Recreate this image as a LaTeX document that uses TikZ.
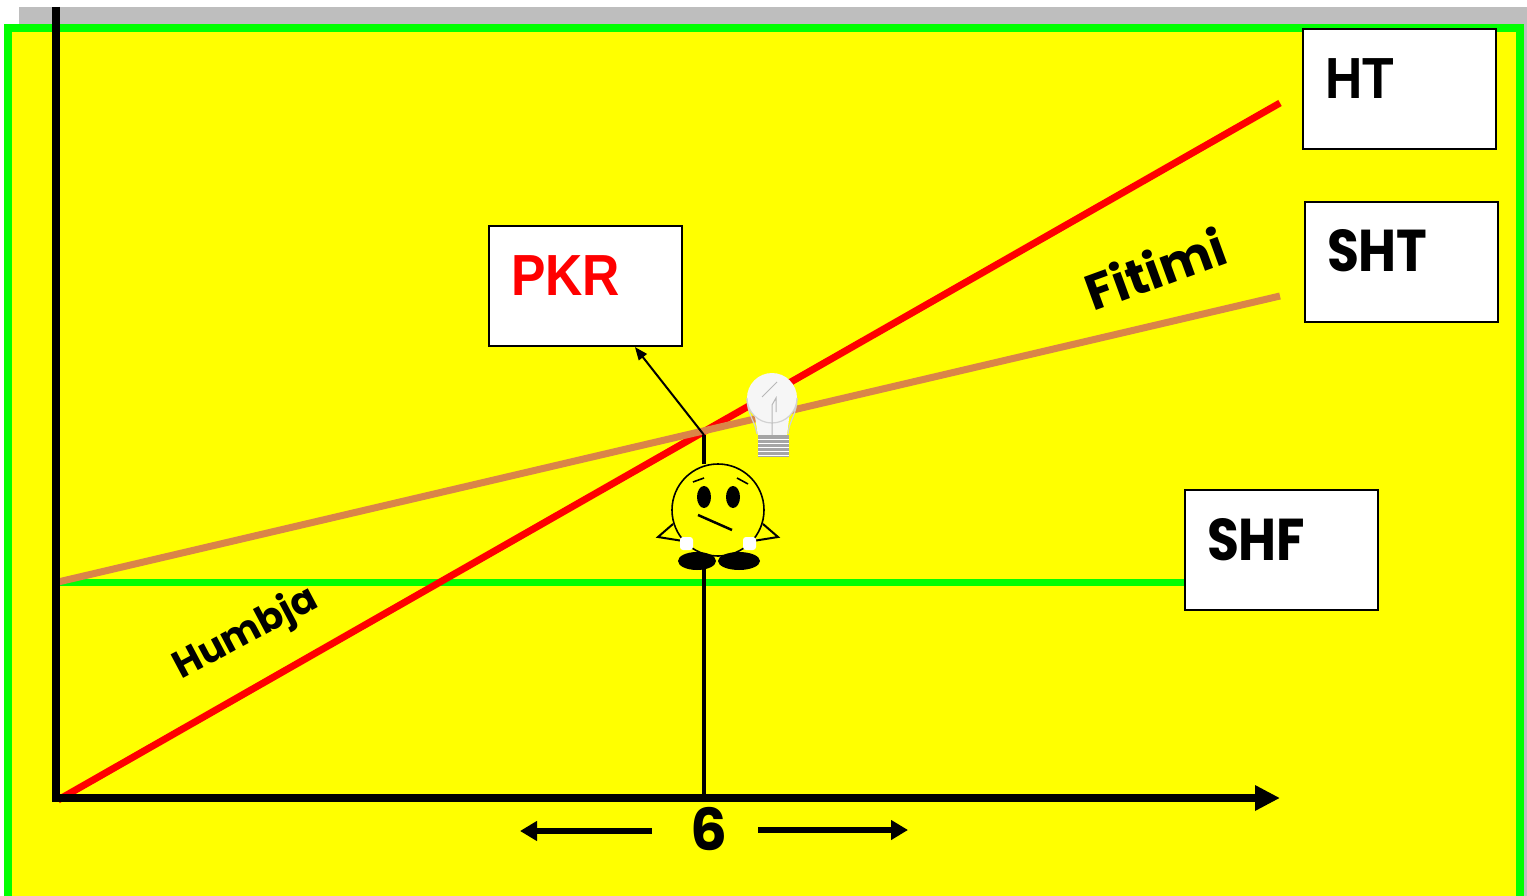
\documentclass[tikz,border=0pt]{standalone}
\usepackage{fontspec}
\usetikzlibrary{arrows.meta}
\newfontfamily\geo{Poppins}
\newfontfamily\geonarrow{Poppins}[FakeStretch=0.88]
\newfontfamily\grotnarrow{Liberation Sans}[FakeStretch=0.89]
\definecolor{bgyellow}{RGB}{255,255,0}
\definecolor{framegreen}{RGB}{0,255,0}
\definecolor{shadowgray}{RGB}{190,190,190}
\definecolor{lineorange}{RGB}{218,133,72}
\definecolor{linered}{RGB}{255,0,0}
\definecolor{bulbwhite}{RGB}{246,246,246}
\definecolor{bulbgray}{RGB}{165,165,165}

\begin{document}
\begin{tikzpicture}[x=1pt,y=-1pt,
  labelbox/.style={draw=black, line width=2pt, fill=white, anchor=north west,
    inner xsep=22pt, inner ysep=0pt, text width=149pt,
    text height=70pt, text depth=50pt, align=left},
  arialtext/.style={font={\grotnarrow\bfseries\fontsize{58pt}{60pt}\selectfont}},
  geotext/.style={font={\geonarrow\bfseries\fontsize{59pt}{61pt}\selectfont}},
  axisline/.style={line width=8pt},
  graphline/.style={line width=7pt},
  thinline/.style={line width=3.5pt},
  outline/.style={line width=1.6pt}]

\useasboundingbox (0,0) rectangle (1527,896);

% shadow and framed yellow panel
\fill[shadowgray] (19,7) rectangle (1527,900);
\draw[framegreen, line width=8pt, fill=bgyellow] (8,28) rectangle (1520,900);

% key points of the chart
\coordinate (O) at (58,800);
\coordinate (htEnd) at (1280,103);
\coordinate (fixStart) at (58,582);
\coordinate (shtEnd) at (1280,296);
\coordinate (cross) at (704,435);
\coordinate (base) at (704,798);
\coordinate (footTop) at (704,562);
\coordinate (headTop) at (704,464);

% labelled boxes
\node[labelbox, arialtext] (HT) at (1302,28) {HT};
\node[labelbox, geotext] (SHT) at (1304,201) {SHT};
\node[labelbox, geotext] (SHF) at (1184,489) {SHF};
\node[labelbox, arialtext, text=linered] (PKR) at (488,225) {PKR};

% fixed cost line, then the two rising lines
\draw[framegreen, line width=7pt] (fixStart) -- (SHF.west |- fixStart);
\draw[linered, graphline] (O) -- (htEnd);
\draw[lineorange, graphline] (fixStart) -- (shtEnd);

% axes
\draw[axisline] (56,7) -- (56,802);
\draw[axisline, -{Triangle[length=25pt,width=24pt]}] (52,798) -- (1280,798);

% break-even drop line and pointer
\draw[thinline] (base) -- (footTop);
\draw[thinline] (headTop) -- (cross);
\draw[line width=2pt, -{Triangle[length=13pt,width=10pt]}] (cross) -- (PKR.-51);

% rotated line labels
\node[font={\geo\bfseries\fontsize{50pt}{52pt}\selectfont}, rotate=20] (fitimi) at (1155,268) {Fitimi};
\node[font={\geo\bfseries\fontsize{38pt}{40pt}\selectfont}, rotate=28] (humbja) at (246,634) {Humbja};

% quantity marker
\node[font={\geo\bfseries\fontsize{58pt}{60pt}\selectfont}, inner sep=0pt] (six) at (709,829) {6};
\coordinate (lStart) at (652,831);
\coordinate (lEnd) at (520,831);
\coordinate (rStart) at (758,830);
\coordinate (rEnd) at (908,830);
\draw[line width=6pt, -{Triangle[length=17pt,width=19pt]}] (lStart) -- (lEnd);
\draw[line width=6pt, -{Triangle[length=17pt,width=19pt]}] (rStart) -- (rEnd);

% light bulb
\fill[bulbwhite] (772,398) circle (25);
\fill[bulbwhite] (754,410) -- (790,410) -- (787,436) -- (758,436) -- cycle;
\draw[bulbgray!50, line width=1.2pt] (757,434) .. controls (755,421) and (747,414) .. (747,398)
  arc (180:0:25) .. controls (797,414) and (789,421) .. (788,434);
\draw[bulbgray!80, line width=1pt] (762,397) -- (777,382);
\draw[bulbgray!80, line width=1pt] (772,435) -- (772,405) -- (776,398) -- (776,412);
\fill[bulbgray] (758,435) rectangle (789,457);
\foreach \yy in {439,443,447,451,455}
  \draw[white, line width=0.8pt] (758,\yy) -- (789,\yy);

% thinking face
\draw[outline] (718,510) circle (46);
\fill (704,497) ellipse (7 and 11);
\fill (733,497) ellipse (7 and 11);
\draw[outline] (693,482) -- (704,478);
\draw[outline] (737,478) -- (748,484);
\draw[line width=2.5pt] (698,515) -- (732,530);
\draw[line width=2pt, line join=miter] (673,524) -- (658,537) -- (683,541);
\draw[line width=2pt, line join=miter] (763,524) -- (778,537) -- (753,541);
\fill[white, rounded corners=3pt] (680,537) rectangle (693,550);
\fill[white, rounded corners=3pt] (743,537) rectangle (756,550);
\fill (697,561) ellipse (19 and 9);
\fill (739,561) ellipse (21 and 9);
\end{tikzpicture}
\end{document}
